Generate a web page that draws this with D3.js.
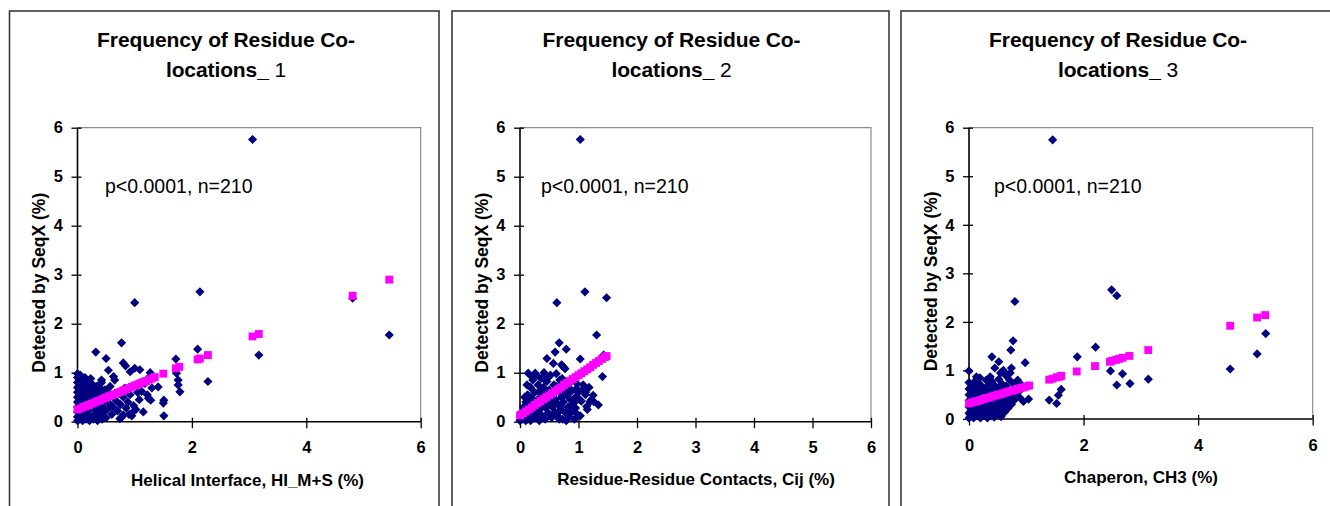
<!DOCTYPE html>
<html>
<head>
<meta charset="utf-8">
<script src="https://cdn.jsdelivr.net/npm/d3@7"></script>
<style>
  html, body { margin: 0; padding: 0; background: #fff; }
  svg { display: block; }
  text { font-family: "Liberation Sans", Arial, sans-serif; }
</style>
</head>
<body>
<svg id="chart" width="1330" height="506"></svg>
<script>
// ---- data: observed frequencies (blue) and fitted values (pink) ----
const yTicks = [0, 1, 2, 3, 4, 5, 6];
const xTicksEven = [0, 2, 4, 6];
const xTicksAll = [0, 1, 2, 3, 4, 5, 6];
const titles = ["1", "2", "3"];
const xTitles = ["Helical Interface, HI_M+S (%)", "Residue-Residue Contacts, Cij (%)", "Chaperon, CH3 (%)"];
const yTitle = "Detected by SeqX (%)";
const statText = "p<0.0001, n=210";

const helicalObserved = [
  [3.06,5.76],[1.0,2.43],[2.14,2.65],[4.81,2.52],[5.45,1.77],[3.17,1.36],[2.1,1.48],[2.28,0.82],
  [1.72,1.28],[0.77,1.61],[0.32,1.42],[0.5,1.29],[0.8,1.2],[0.84,1.14],[1.0,1.09],[1.09,1.06],
  [1.27,1.0],[1.3,0.69],[1.24,0.48],[1.28,0.44],[1.51,0.44],[1.5,0.38],[1.51,0.12],[1.73,0.99],
  [1.76,0.85],[1.76,0.75],[1.79,0.61],[1.15,0.2],[0.95,0.12],[0.74,0.06],[0.54,1.05],[0.63,0.92],
  [0.42,0.85],[0.23,0.88],[0.05,0.95],[0,0.98],[0.92,1.02],[1.06,0.78],
  [0,0.02],[0,0.1],[0,0.2],[0,0.3],[0,0.4],[0,0.5],[0,0.6],[0,0.7],[0,0.8],[0,0.9],
  [0.04,0.05],[0.05,0.15],[0.03,0.28],[0.06,0.38],[0.04,0.47],[0.05,0.58],[0.03,0.66],[0.06,0.75],[0.04,0.85],
  [0.09,0.02],[0.1,0.12],[0.1,0.22],[0.08,0.33],[0.11,0.44],[0.09,0.55],[0.1,0.63],[0.12,0.72],[0.1,0.82],[0.13,0.9],
  [0.15,0.05],[0.16,0.17],[0.14,0.27],[0.17,0.38],[0.15,0.5],[0.18,0.6],[0.16,0.7],[0.2,0.8],
  [0.21,0.02],[0.22,0.1],[0.2,0.24],[0.23,0.33],[0.22,0.45],[0.24,0.55],[0.25,0.66],[0.27,0.75],
  [0.28,0.05],[0.29,0.15],[0.3,0.28],[0.31,0.4],[0.29,0.5],[0.32,0.62],[0.33,0.72],
  [0.35,0.02],[0.36,0.12],[0.37,0.22],[0.38,0.35],[0.36,0.48],[0.4,0.58],[0.39,0.7],[0.42,0.8],
  [0.43,0.05],[0.44,0.18],[0.45,0.3],[0.47,0.42],[0.46,0.55],[0.48,0.65],
  [0.5,0.08],[0.52,0.25],[0.55,0.38],[0.53,0.6],[0.57,0.72],[0.6,0.15],[0.62,0.3],[0.63,0.5],
  [0.65,0.85],[0.68,0.42],[0.7,0.22],[0.72,0.6],[0.75,0.35],[0.78,0.1],[0.8,0.5],[0.82,0.68],
  [0.85,0.28],[0.88,0.4],[0.9,0.15],[0.92,0.55],[0.95,0.72],[0.98,0.33],[1.02,0.25],[1.05,0.6],
  [1.08,0.45],[1.12,0.62],[1.18,0.78],[1.22,0.55],[1.25,0.9],[0.97,0.2],[0.8,0.14],[1.41,0.71]
];
const helicalFitted = [
  [0,0.25],[0.05,0.27],[0.1,0.3],[0.15,0.32],[0.2,0.34],[0.25,0.37],[0.3,0.39],[0.35,0.42],
  [0.4,0.44],[0.45,0.47],[0.5,0.49],[0.55,0.52],[0.6,0.54],[0.65,0.56],[0.7,0.59],[0.75,0.61],
  [0.8,0.64],[0.85,0.66],[0.9,0.69],[0.95,0.71],[1.0,0.74],[1.05,0.76],[1.1,0.78],[1.15,0.81],
  [1.2,0.83],[1.25,0.86],[1.3,0.88],[1.35,0.91],[1.5,0.98],
  [1.72,1.09],[1.78,1.12],[2.1,1.27],[2.14,1.29],[2.28,1.36],[3.06,1.74],[3.17,1.79],[4.81,2.57],[5.45,2.9]
];

const contactsObserved = [
  [1.03,5.76],[0.63,2.43],[1.11,2.65],[1.48,2.53],[1.31,1.77],[0.67,1.61],[0.79,1.48],[0.6,1.42],
  [1.03,1.28],[0.46,1.29],[0.74,1.12],[0.77,1.08],[1.41,0.92],[1.43,1.36],[0.14,0.99],[0.26,0.99],
  [1.34,0.34],[1.26,0.41],[1.14,0.31],[1.03,0.12],[0.83,0.14],[1.1,0.68],[1.12,0.6],[0.43,0.85],
  [0.71,1.16],[0.57,1.19],[1.2,0.41],[1.11,0.65],[1.25,0.54],[0.97,0.78],[0.85,0.68],
  [0,0.02],[0.02,0.1],[0.03,0.2],[0.05,0.05],[0.06,0.3],[0.08,0.15],[0.1,0.02],[0.1,0.4],
  [0.12,0.25],[0.13,0.55],[0.15,0.1],[0.16,0.35],[0.18,0.7],[0.18,0.02],[0.2,0.48],[0.21,0.2],
  [0.22,0.85],[0.24,0.08],[0.25,0.6],[0.26,0.32],[0.28,0.95],[0.29,0.15],[0.3,0.45],[0.31,0.75],
  [0.33,0.02],[0.34,0.25],[0.35,0.58],[0.36,0.88],[0.38,0.12],[0.39,0.38],[0.4,0.7],[0.41,1.0],
  [0.43,0.05],[0.44,0.28],[0.45,0.5],[0.46,0.82],[0.48,0.18],[0.5,0.4],[0.5,0.65],[0.52,0.95],
  [0.54,0.08],[0.55,0.3],[0.56,0.55],[0.58,0.75],[0.6,0.2],[0.61,0.45],[0.62,0.98],[0.64,0.12],
  [0.65,0.35],[0.66,0.62],[0.68,0.85],[0.7,0.25],[0.71,0.5],[0.73,0.05],[0.74,0.4],[0.76,0.7],
  [0.78,0.18],[0.8,0.55],[0.82,0.3],[0.84,0.1],[0.86,0.45],[0.88,0.62],[0.9,0.22],[0.92,0.38],
  [0.95,0.5],[0.98,0.15],[1.0,0.6],[1.05,0.42],[1.08,0.75],[1.12,0.55],[1.15,0.25],[1.18,0.7],[1.22,0.45],
  [0.01,0.05],[0.04,0.12],[0.07,0.22],[0.09,0.08],[0.11,0.32],[0.14,0.18],[0.17,0.42],[0.19,0.28],
  [0.23,0.38],[0.27,0.22],[0.32,0.35],[0.37,0.48],[0.42,0.35],[0.47,0.6],[0.53,0.45],[0.57,0.15],
  [0.63,0.72],[0.67,0.05],[0.69,0.32],[0.72,0.88],[0.77,0.62],[0.79,0.02],[0.83,0.78],[0.87,0.2],
  [0.93,0.05],[0.97,0.68],[0.08,0.5],[0.12,0.75],[0.2,0.92],[0.33,0.62],[0.48,0.9],[0.58,0.4],
  [0.66,0.2],[0.75,0.52],[0.88,0.35],[0.95,0.28],[1.02,0.45],[0.7,0.62]
];
const contactsFitted = [
  [0,0.13],[0.05,0.17],[0.1,0.21],[0.15,0.25],[0.2,0.29],[0.25,0.34],[0.3,0.38],[0.35,0.42],
  [0.4,0.46],[0.45,0.5],[0.5,0.54],[0.55,0.58],[0.6,0.62],[0.65,0.66],[0.7,0.7],[0.75,0.75],
  [0.8,0.79],[0.85,0.83],[0.9,0.87],[0.95,0.91],[1.0,0.95],[1.05,0.99],[1.1,1.03],[1.15,1.07],
  [1.2,1.11],[1.25,1.16],[1.3,1.2],[1.35,1.24],[1.4,1.28],[1.45,1.32],[1.48,1.34]
];

const chaperonObserved = [
  [1.46,5.75],[0.8,2.42],[2.49,2.66],[2.58,2.54],[5.18,1.76],[5.03,1.34],[4.56,1.03],[2.21,1.48],
  [1.89,1.28],[2.47,0.99],[2.68,0.93],[2.58,0.7],[2.81,0.73],[3.13,0.82],[1.4,0.39],[1.53,0.32],
  [1.56,0.49],[1.61,0.61],[0.77,1.61],[0.73,1.42],[0.98,1.16],[0.4,1.28],[0.52,1.18],[0,0.99],
  [0.19,0.85],[1.04,0.41],[0.95,0.36],[0.74,1.05],[0.13,0.87],[0.37,0.87],[0.45,1.05],[0.6,1.0],
  [0.85,0.8],[0.9,0.6],
  [0,0.02],[0,0.12],[0,0.25],[0,0.38],[0,0.5],[0,0.62],[0,0.75],[0.03,0.06],[0.04,0.18],[0.05,0.32],
  [0.04,0.45],[0.06,0.58],[0.05,0.7],[0.08,0.02],[0.09,0.14],[0.1,0.26],[0.08,0.4],[0.11,0.52],
  [0.1,0.66],[0.14,0.08],[0.15,0.2],[0.16,0.35],[0.14,0.48],[0.17,0.6],[0.16,0.75],[0.2,0.02],
  [0.21,0.14],[0.22,0.28],[0.2,0.42],[0.23,0.55],[0.22,0.68],[0.26,0.08],[0.27,0.2],[0.28,0.34],
  [0.26,0.47],[0.29,0.62],[0.32,0.02],[0.33,0.15],[0.34,0.27],[0.32,0.4],[0.35,0.55],[0.34,0.7],
  [0.38,0.08],[0.39,0.2],[0.4,0.33],[0.38,0.47],[0.41,0.6],[0.4,0.78],[0.44,0.04],[0.45,0.16],
  [0.46,0.28],[0.44,0.42],[0.47,0.55],[0.46,0.68],[0.5,0.1],[0.51,0.22],[0.52,0.36],[0.5,0.5],
  [0.53,0.63],[0.52,0.82],[0.56,0.05],[0.57,0.18],[0.58,0.3],[0.56,0.45],[0.59,0.58],[0.58,0.72],
  [0.62,0.14],[0.63,0.26],[0.64,0.4],[0.62,0.55],[0.65,0.68],[0.64,0.9],[0.68,0.22],[0.69,0.35],
  [0.7,0.5],[0.68,0.62],[0.71,0.8],[0.74,0.3],[0.75,0.44],[0.76,0.58],[0.8,0.4],[0.82,0.52],
  [0.85,0.65],[0.88,0.45],[0.92,0.7],[0.78,0.72],[0.72,0.95],[0.55,0.95],[0.3,0.8],[0.12,0.8]
];
const chaperonFitted = [
  [0,0.32],[0.05,0.34],[0.1,0.36],[0.15,0.37],[0.2,0.39],[0.25,0.41],[0.3,0.43],[0.35,0.44],
  [0.4,0.46],[0.45,0.48],[0.5,0.5],[0.55,0.51],[0.6,0.53],[0.65,0.55],[0.7,0.57],[0.75,0.58],
  [0.8,0.6],[0.85,0.62],[0.9,0.64],[0.95,0.65],[1.0,0.67],[1.05,0.69],
  [1.4,0.81],[1.46,0.83],[1.53,0.86],[1.58,0.87],[1.61,0.89],[1.88,0.98],[2.2,1.09],[2.46,1.18],
  [2.5,1.2],[2.57,1.22],[2.62,1.24],[2.68,1.26],[2.8,1.3],[3.13,1.42],[4.56,1.92],[5.03,2.09],[5.17,2.14]
];

// ---- layout of the three chart boxes ----
const panels = [
  { frame: [9.5, 439], plot: { l: 77.5, r: 420.7, t: 127.7, b: 421.7 }, titleX: 226, yTitleX: 38.5, statX: 105,
    xTitleX: 247.5, xTitleY: 486, xTicks: xTicksEven, observed: helicalObserved, fitted: helicalFitted },
  { frame: [452, 889], plot: { l: 520, r: 871, t: 127.7, b: 421.7 }, titleX: 671.5, yTitleX: 481.5, statX: 541,
    xTitleX: 696, xTitleY: 485, xTicks: xTicksAll, observed: contactsObserved, fitted: contactsFitted },
  { frame: [901, 1345], plot: { l: 969, r: 1312.7, t: 127.7, b: 419 }, titleX: 1118, yTitleX: 931, statX: 994,
    xTitleX: 1141, xTitleY: 483, xTicks: xTicksEven, observed: chaperonObserved, fitted: chaperonFitted }
];

const svg = d3.select("#chart");
const diamond = d3.symbol().type(d3.symbolSquare).size(42);
const square = d3.symbol().type(d3.symbolSquare).size(62);

panels.forEach((p, i) => {
  const g = svg.append("g");

  // outer chart box
  g.append("rect")
    .attr("x", p.frame[0]).attr("y", 11)
    .attr("width", p.frame[1] - p.frame[0]).attr("height", 520)
    .attr("fill", "#fff").attr("stroke", "#3a3a3a").attr("stroke-width", 1.6);

  // title, two lines
  const title = g.append("text")
    .attr("text-anchor", "middle").attr("font-size", 21).attr("font-weight", "bold")
    .attr("letter-spacing", -0.1);
  title.append("tspan").attr("x", p.titleX).attr("y", 46.5).text("Frequency of Residue Co-");
  const line2 = title.append("tspan").attr("x", p.titleX).attr("y", 76.5);
  line2.append("tspan").text("locations_");
  line2.append("tspan").attr("font-weight", "normal").text(" " + titles[i]);

  const x = d3.scaleLinear().domain([0, 6]).range([p.plot.l, p.plot.r]);
  const y = d3.scaleLinear().domain([0, 6]).range([p.plot.b, p.plot.t]);

  // plot-area border (top and right, light grey)
  g.append("path")
    .attr("d", `M${p.plot.l},${p.plot.t}H${p.plot.r}V${p.plot.b}`)
    .attr("fill", "none").attr("stroke", "#8c8c8c").attr("stroke-width", 1.2);

  // y axis
  const yAxis = g.append("g")
    .attr("transform", `translate(${p.plot.l},0)`)
    .call(d3.axisLeft(y).tickValues(yTicks).tickFormat(d3.format("d")).tickSize(6).tickPadding(8.5));
  yAxis.selectAll(".tick line").attr("x1", 4).attr("x2", -6).attr("stroke", "#000").attr("stroke-width", 1.3);
  yAxis.select(".domain").attr("stroke", "#000").attr("stroke-width", 1.6).attr("d", `M0,${p.plot.b}V${p.plot.t}`);
  yAxis.selectAll(".tick text")
    .attr("font-family", "Liberation Sans, Arial, sans-serif")
    .attr("font-size", 16.5).attr("font-weight", "bold").attr("fill", "#000");

  // x axis
  const xAxis = g.append("g")
    .attr("transform", `translate(0,${p.plot.b})`)
    .call(d3.axisBottom(x).tickValues(p.xTicks).tickFormat(d3.format("d")).tickSize(6).tickPadding(14));
  xAxis.selectAll(".tick line").attr("y1", -4).attr("y2", 6.5).attr("stroke", "#000").attr("stroke-width", 1.3);
  xAxis.select(".domain").attr("stroke", "#000").attr("stroke-width", 1.6).attr("d", `M${p.plot.l},0H${p.plot.r}`);
  xAxis.selectAll(".tick text")
    .attr("font-family", "Liberation Sans, Arial, sans-serif")
    .attr("font-size", 16.5).attr("font-weight", "bold").attr("fill", "#000");

  // axis titles
  g.append("text")
    .attr("x", p.xTitleX).attr("y", p.xTitleY)
    .attr("text-anchor", "middle").attr("font-size", 17).attr("font-weight", "bold")
    .text(xTitles[i]);
  g.append("text")
    .attr("transform", `translate(${p.yTitleX},${(p.plot.t + p.plot.b) / 2 + 8}) rotate(-90)`)
    .attr("text-anchor", "middle").attr("dominant-baseline", "central")
    .attr("font-size", 17.5).attr("font-weight", "bold")
    .text(yTitle);

  // statistics note
  g.append("text")
    .attr("x", p.statX).attr("y", 192.5)
    .attr("font-size", 19.5)
    .text(statText);

  // observed values
  g.append("g").selectAll("path").data(p.observed).join("path")
    .attr("d", diamond)
    .attr("transform", d => `translate(${x(d[0])},${y(d[1])}) rotate(45)`)
    .attr("fill", "#000080");

  // fitted values
  g.append("g").selectAll("path").data(p.fitted).join("path")
    .attr("d", square)
    .attr("transform", d => `translate(${x(d[0])},${y(d[1])})`)
    .attr("fill", "#ff00ff");
});
</script>
</body>
</html>
